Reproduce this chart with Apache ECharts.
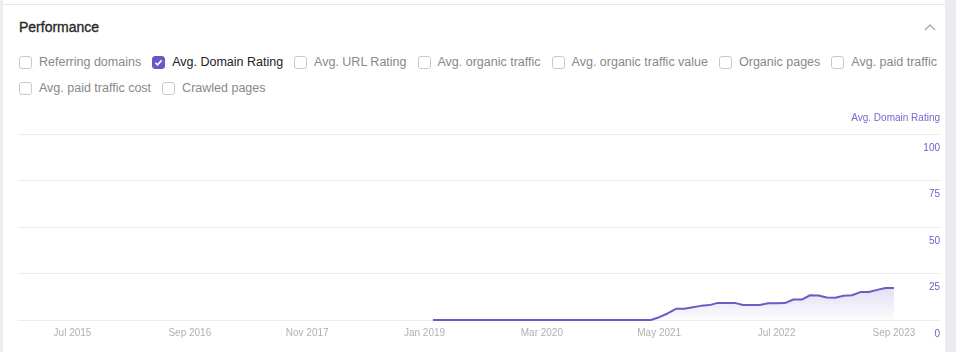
<!DOCTYPE html>
<html>
<head>
<meta charset="utf-8">
<script src="https://cdn.jsdelivr.net/npm/echarts@6/dist/echarts.min.js"></script>
<style>
  html, body { margin: 0; padding: 0; width: 956px; height: 352px; overflow: hidden; background: #fff; font-family: "Liberation Sans", Arial, sans-serif; }
  .lstrip { position: absolute; left: 0; top: 0; width: 3px; height: 352px; background: #eaecef; }
  .rstrip { position: absolute; left: 945px; top: 0; width: 11px; height: 352px; background: #eaecef; }
  .topline { position: absolute; left: 3px; top: 4px; width: 942px; height: 1px; background: #e8e8e8; }
  .title { position: absolute; left: 19px; top: 18px; font-size: 14px; font-weight: normal; color: #2a2a2a; line-height: 18px; -webkit-text-stroke: 0.35px #2a2a2a; }
  .chev { position: absolute; left: 923px; top: 22px; }
  .row { position: absolute; left: 19px; display: flex; align-items: center; white-space: nowrap; height: 20px; }
  .item { display: inline-flex; align-items: center; margin-right: 11px; font-size: 12.5px; color: #888; }
  .box { box-sizing: border-box; width: 13px; height: 13px; border: 1px solid #c9c9c9; border-radius: 3px; margin-right: 7px; background: #fff; }
  .box.on { background: #6e57c5; border-color: #6e57c5; position: relative; }
  .item.on { color: #222; }
  #chart { position: absolute; left: 0; top: 100px; width: 945px; height: 252px; }
</style>
</head>
<body>
<div class="lstrip"></div>
<div class="rstrip"></div>
<div class="topline"></div>
<div class="title">Performance</div>
<svg class="chev" width="14" height="10" viewBox="0 0 14 10"><polyline points="2,8 7,3 12,8" fill="none" stroke="#aaa" stroke-width="1.4"/></svg>
<div class="row" id="row1" style="top:52px"></div>
<div class="row" id="row2" style="top:78px"></div>
<div id="chart"></div>
<script>
// ---- data ----
const metricsRow1 = ['Referring domains', 'Avg. Domain Rating', 'Avg. URL Rating', 'Avg. organic traffic', 'Avg. organic traffic value', 'Organic pages', 'Avg. paid traffic'];
const metricsRow2 = ['Avg. paid traffic cost', 'Crawled pages'];
const checkedMetric = 'Avg. Domain Rating';

const monthNames = ['Jan','Feb','Mar','Apr','May','Jun','Jul','Aug','Sep','Oct','Nov','Dec'];
const axisStartYear = 2015, axisStartMonth = 0;   // Jan 2015
const axisMonthCount = 110;                        // through Feb 2024
const tickLabels = ['Jul 2015', 'Sep 2016', 'Nov 2017', 'Jan 2019', 'Mar 2020', 'May 2021', 'Jul 2022', 'Sep 2023'];
const yTicks = [0, 25, 50, 75, 100];

const dataStart = 'Feb 2019';
// Avg. Domain Rating, monthly from Feb 2019 to Sep 2023
const ratingValues = [
  0,0,0,0,0,0,0,0,0,0,0,            // Feb-Dec 2019
  0,0,0,0,0,0,0,0,0,0,0,0,          // 2020
  0,0,0,0,                          // Jan-Apr 2021
  1.5,3.5,6,6,6.8,7.6,8,9.2,        // May-Dec 2021
  9.2,9.2,8.1,8,8.1,9,9,9.1,11,11,13.3,13.2, // 2022
  12.1,12,13,13.3,15,15.1,16.2,17.2,17.2     // Jan-Sep 2023
];

// ---- checkbox rows ----
function buildRow(el, items) {
  items.forEach(name => {
    const it = document.createElement('span');
    it.className = 'item' + (name === checkedMetric ? ' on' : '');
    const b = document.createElement('span');
    b.className = 'box' + (name === checkedMetric ? ' on' : '');
    if (name === checkedMetric) {
      b.innerHTML = '<svg width="11" height="11" viewBox="0 0 11 11" style="position:absolute;left:0;top:0"><polyline points="2.5,5.8 4.6,7.8 8.6,3.4" fill="none" stroke="#fff" stroke-width="1.6"/></svg>';
    }
    it.appendChild(b);
    it.appendChild(document.createTextNode(name));
    el.appendChild(it);
  });
}
buildRow(document.getElementById('row1'), metricsRow1);
buildRow(document.getElementById('row2'), metricsRow2);

// ---- chart ----
const categories = [];
for (let i = 0; i < axisMonthCount; i++) {
  const m = (axisStartMonth + i) % 12;
  const y = axisStartYear + Math.floor((axisStartMonth + i) / 12);
  categories.push(monthNames[m] + ' ' + y);
}
const startIdx = categories.indexOf(dataStart);
const seriesData = categories.map((c, i) => {
  const k = i - startIdx;
  return (k >= 0 && k < ratingValues.length) ? ratingValues[k] : null;
});

const purple = '#7059c2';
const chart = echarts.init(document.getElementById('chart'), null, { renderer: 'canvas' });
chart.setOption({
  animation: false,
  textStyle: { fontFamily: 'Liberation Sans, Arial, sans-serif' },
  grid: { left: 18, right: 5, top: 34, bottom: 32 },
  xAxis: {
    type: 'category',
    data: categories,
    boundaryGap: true,
    axisLine: { show: true, lineStyle: { color: '#ececec' } },
    axisTick: { show: false },
    axisLabel: {
      color: '#b0b0b0', fontSize: 10, margin: 8,
      interval: (idx, val) => tickLabels.indexOf(val) >= 0,
      hideOverlap: false
    },
    splitLine: { show: false }
  },
  yAxis: {
    type: 'value',
    position: 'right',
    min: 0, max: 100, interval: 25,
    name: 'Avg. Domain Rating',
    nameLocation: 'end',
    nameGap: 16,
    nameTextStyle: { color: '#7a66cc', fontSize: 10, align: 'right', verticalAlign: 'middle' },
    axisLine: { show: false },
    axisTick: { show: false },
    axisLabel: {
      inside: true, color: '#6f5fc6', fontSize: 10, margin: 0,
      verticalAlign: 'top', padding: [9, 0, 0, 0],
      formatter: v => (yTicks.indexOf(v) >= 0 ? String(v) : '')
    },
    splitLine: { show: true, lineStyle: { color: '#ececec' } }
  },
  series: [{
    type: 'line',
    name: 'Avg. Domain Rating',
    data: seriesData,
    showSymbol: false,
    connectNulls: false,
    lineStyle: { color: purple, width: 2 },
    itemStyle: { color: purple },
    areaStyle: {
      color: new echarts.graphic.LinearGradient(0, 0, 0, 1, [
        { offset: 0, color: 'rgba(112,89,194,0.28)' },
        { offset: 1, color: 'rgba(112,89,194,0.03)' }
      ])
    }
  }]
});
</script>
</body>
</html>
